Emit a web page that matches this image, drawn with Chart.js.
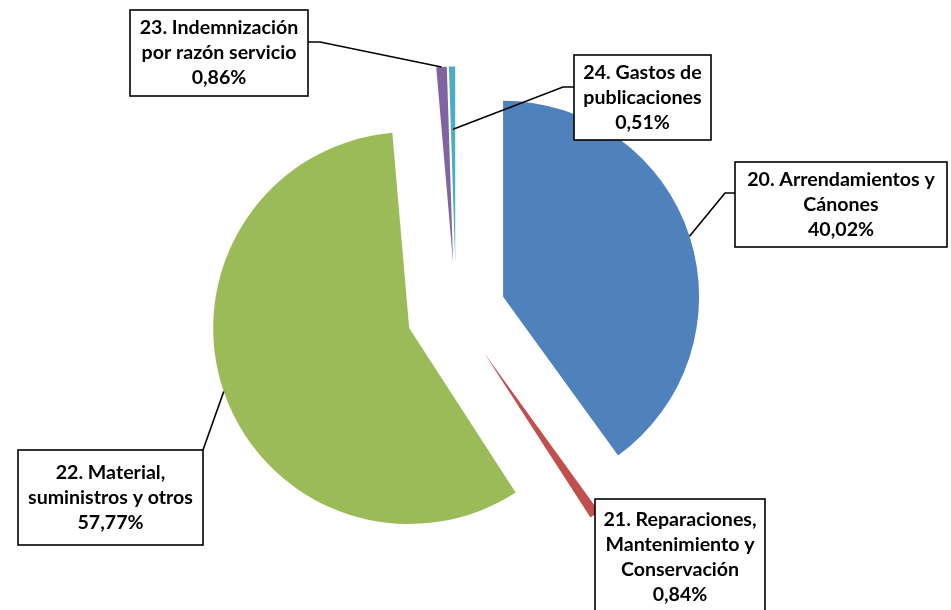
<!DOCTYPE html>
<html>
<head>
<meta charset="utf-8">
<script src="https://cdn.jsdelivr.net/npm/chart.js@4"></script>
<style>
  body { margin: 0; background: #fff; }
  canvas { display: block; }
</style>
</head>
<body>
<canvas id="gastosChart" width="951" height="610"></canvas>
<script>
const categories = [
    ['20. Arrendamientos y', 'Cánones'],
    ['21. Reparaciones,', 'Mantenimiento y', 'Conservación'],
    ['22. Material,', 'suministros y otros'],
    ['23. Indemnización', 'por razón servicio'],
    ['24. Gastos de', 'publicaciones']
];
const shares = [40.02, 0.84, 57.77, 0.86, 0.51];
const sliceColors = ['#4F81BD', '#C0504D', '#9BBB59', '#8064A2', '#4BACC6'];

const EXPLODE = 49.5;
const LINE_H = 25;
const LABEL_FONT = 'bold 19.6px Lato';

// label boxes as placed on the sheet, with the point where each leader leaves the box
const labelBoxes = [
    { x: 735, y: 162, w: 212, h: 85, from: [735, 193], elbow: [725, 193], reach: 1 },
    { x: 595, y: 499, w: 170, h: 117, from: [601, 499], reach: 1 },
    { x: 18, y: 450, w: 185, h: 95, from: [203, 450], reach: 1 },
    { x: 130, y: 10, w: 178, h: 86, from: [308, 42], elbow: [320, 42], reach: 1 },
    { x: 574, y: 55, w: 137, h: 85, from: [574, 87], elbow: [563, 87], reach: 0.68 }
];

function fmtShare(v) {
    return v.toFixed(2).replace('.', ',') + '%';
}

// pull every slice out from the centre along its own mid angle
const explodePlugin = {
    id: 'explode',
    afterDatasetUpdate(chart, args) {
        args.meta.data.forEach(arc => {
            if (arc._exploded) return;
            const draw = arc.draw;
            arc.draw = function(ctx) {
                const mid = (this.startAngle + this.endAngle) / 2;
                ctx.save();
                ctx.translate(Math.cos(mid) * EXPLODE, Math.sin(mid) * EXPLODE);
                draw.call(this, ctx);
                ctx.restore();
            };
            arc._exploded = true;
        });
    }
};

const calloutPlugin = {
    id: 'callouts',
    afterDraw(chart) {
        const ctx = chart.ctx;
        const arcs = chart.getDatasetMeta(0).data;
        ctx.save();
        ctx.strokeStyle = '#000';
        ctx.lineWidth = 1.6;

        labelBoxes.forEach((b, i) => {
            const arc = arcs[i];
            const mid = (arc.startAngle + arc.endAngle) / 2;
            const rr = EXPLODE + arc.outerRadius * b.reach;
            const ax = arc.x + Math.cos(mid) * rr;
            const ay = arc.y + Math.sin(mid) * rr;
            ctx.beginPath();
            ctx.moveTo(b.from[0], b.from[1]);
            if (b.elbow) ctx.lineTo(b.elbow[0], b.elbow[1]);
            ctx.lineTo(ax, ay);
            ctx.stroke();
        });

        labelBoxes.forEach((b, i) => {
            ctx.fillStyle = '#fff';
            ctx.fillRect(b.x, b.y, b.w, b.h);
            ctx.strokeRect(b.x, b.y, b.w, b.h);

            const lines = categories[i].concat([fmtShare(shares[i])]);
            ctx.fillStyle = '#000';
            ctx.font = LABEL_FONT;
            ctx.textAlign = 'center';
            ctx.textBaseline = 'middle';
            const cx = b.x + b.w / 2;
            const cy = b.y + b.h / 2;
            lines.forEach((t, k) => {
                ctx.fillText(t, cx, cy + (k - (lines.length - 1) / 2) * LINE_H);
            });
        });
        ctx.restore();
    }
};

new Chart(document.getElementById('gastosChart'), {
    type: 'pie',
    data: {
        labels: categories,
        datasets: [{
            data: shares,
            backgroundColor: sliceColors,
            borderWidth: 0
        }]
    },
    options: {
        responsive: false,
        animation: false,
        radius: 196,
        layout: { padding: { left: 0, right: 39, top: 14, bottom: 0 } },
        plugins: {
            legend: { display: false },
            tooltip: { enabled: false }
        }
    },
    plugins: [explodePlugin, calloutPlugin]
});
</script>
</body>
</html>
